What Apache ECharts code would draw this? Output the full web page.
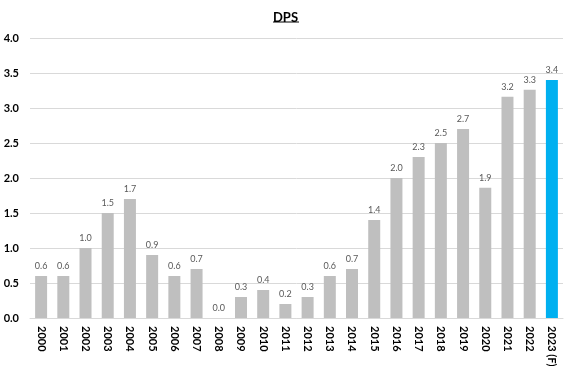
<!DOCTYPE html>
<html>
<head>
<meta charset="utf-8">
<script src="https://cdn.jsdelivr.net/npm/echarts@6/dist/echarts.min.js"></script>
<style>html,body{margin:0;padding:0;background:#fff;}#c{width:571px;height:371px;}</style>
</head>
<body>
<div id="c"></div>
<script>
var categories = ['2000','2001','2002','2003','2004','2005','2006','2007','2008','2009','2010','2011','2012','2013','2014','2015','2016','2017','2018','2019','2020','2021','2022','2023 (F)'];
var values = [0.6,0.6,1.0,1.5,1.7,0.9,0.6,0.7,0.0,0.3,0.4,0.2,0.3,0.6,0.7,1.4,2.0,2.3,2.5,2.7,1.86,3.16,3.26,3.4];
var yTicks = [0,0.5,1,1.5,2,2.5,3,3.5,4];
var forecastIndex = 23;

var chart = echarts.init(document.getElementById('c'), null, {renderer:'canvas'});
var font = 'Lato, "Open Sans", sans-serif';
chart.setOption({
  animation: false,
  title: {
    text: 'DPS', left: 'center', top: 6,
    textStyle: {fontFamily: font, fontSize: 13, fontWeight: 'bold', color: '#000'}
  },
  graphic: [{
    type: 'line', shape: {x1: 273, y1: 22, x2: 299, y2: 22},
    style: {stroke: '#000', lineWidth: 1}
  }],
  grid: {left: 30, right: 8, top: 38, bottom: 53, containLabel: false},
  xAxis: {
    type: 'category', data: categories,
    axisLine: {show: true, lineStyle: {color: '#d9d9d9'}},
    axisTick: {show: false},
    axisLabel: {rotate: -90, interval: 0, margin: 8, color: '#000', fontFamily: font, fontSize: 11, fontWeight: 'bold'}
  },
  yAxis: {
    type: 'value', min: 0, max: 4, interval: 0.5,
    axisLine: {show: false}, axisTick: {show: false},
    splitLine: {lineStyle: {color: '#d9d9d9'}},
    axisLabel: {margin: 11, color: '#000', fontFamily: font, fontSize: 11, fontWeight: 'bold',
      formatter: function(v){ return v.toFixed(1); }}
  },
  series: [{
    type: 'bar', barWidth: '54%',
    data: values.map(function(v, i){
      return {value: v, itemStyle: {color: i === forecastIndex ? '#00b0f0' : '#bfbfbf'}};
    }),
    label: {show: true, position: 'top', distance: 5, color: '#595959', fontFamily: font, fontSize: 9,
      formatter: function(p){ return p.value.toFixed(1); }}
  }]
});
</script>
</body>
</html>
